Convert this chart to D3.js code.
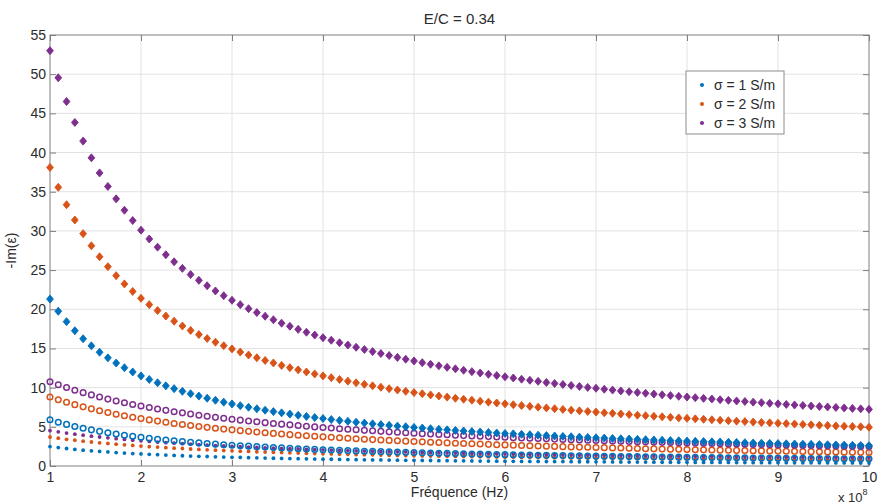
<!DOCTYPE html>
<html>
<head>
<meta charset="utf-8">
<script src="https://cdn.jsdelivr.net/npm/d3@7"></script>
<style>
  html, body { margin: 0; padding: 0; background: #fff; }
  svg { display: block; font-family: "Liberation Sans", Arial, Helvetica, sans-serif; }
</style>
</head>
<body>
<svg id="chart" width="880" height="504"></svg>
<script>
// ---------- data (x in units of 1e8 Hz) ----------
const freq = [
  1, 1.091, 1.182, 1.273, 1.364, 1.455, 1.545, 1.636, 1.727, 1.818, 1.909,
  2, 2.091, 2.182, 2.273, 2.364, 2.455, 2.545, 2.636, 2.727, 2.818, 2.909,
  3, 3.091, 3.182, 3.273, 3.364, 3.455, 3.545, 3.636, 3.727, 3.818, 3.909,
  4, 4.091, 4.182, 4.273, 4.364, 4.455, 4.545, 4.636, 4.727, 4.818, 4.909,
  5, 5.091, 5.182, 5.273, 5.364, 5.455, 5.545, 5.636, 5.727, 5.818, 5.909,
  6, 6.091, 6.182, 6.273, 6.364, 6.455, 6.545, 6.636, 6.727, 6.818, 6.909,
  7, 7.091, 7.182, 7.273, 7.364, 7.455, 7.545, 7.636, 7.727, 7.818, 7.909,
  8, 8.091, 8.182, 8.273, 8.364, 8.455, 8.545, 8.636, 8.727, 8.818, 8.909,
  9, 9.091, 9.182, 9.273, 9.364, 9.455, 9.545, 9.636, 9.727, 9.818, 9.909,
  10
];

// small dots
const sigma1Dots = [
  2.48, 2.35, 2.23, 2.12, 2.02, 1.94, 1.86, 1.79, 1.71, 1.65,
  1.59, 1.54, 1.49, 1.44, 1.39, 1.35, 1.31, 1.27, 1.24, 1.21,
  1.17, 1.14, 1.11, 1.09, 1.06, 1.04, 1.01, 0.99, 0.97, 0.95,
  0.93, 0.91, 0.89, 0.87, 0.86, 0.84, 0.82, 0.81, 0.79, 0.78,
  0.77, 0.76, 0.74, 0.73, 0.72, 0.71, 0.70, 0.68, 0.68, 0.66,
  0.66, 0.65, 0.63, 0.63, 0.62, 0.61, 0.60, 0.59, 0.59, 0.58,
  0.57, 0.56, 0.56, 0.55, 0.54, 0.54, 0.53, 0.53, 0.52, 0.51,
  0.50, 0.50, 0.50, 0.49, 0.48, 0.48, 0.47, 0.47, 0.46, 0.46,
  0.45, 0.45, 0.45, 0.44, 0.44, 0.43, 0.43, 0.42, 0.42, 0.42,
  0.41, 0.41, 0.40, 0.40, 0.40, 0.39, 0.39, 0.39, 0.38, 0.38
];
const sigma2Dots = [
  3.70, 3.55, 3.41, 3.29, 3.17, 3.06, 2.96, 2.87, 2.78, 2.70,
  2.62, 2.54, 2.47, 2.41, 2.34, 2.28, 2.23, 2.17, 2.12, 2.07,
  2.02, 1.98, 1.94, 1.89, 1.86, 1.82, 1.78, 1.75, 1.71, 1.68,
  1.65, 1.62, 1.59, 1.56, 1.54, 1.51, 1.49, 1.46, 1.44, 1.42,
  1.39, 1.37, 1.35, 1.33, 1.31, 1.29, 1.27, 1.26, 1.24, 1.22,
  1.21, 1.19, 1.18, 1.16, 1.14, 1.13, 1.12, 1.10, 1.09, 1.08,
  1.06, 1.05, 1.04, 1.02, 1.01, 1.00, 0.99, 0.98, 0.97, 0.96,
  0.95, 0.94, 0.93, 0.92, 0.91, 0.90, 0.89, 0.88, 0.87, 0.87,
  0.86, 0.85, 0.84, 0.84, 0.83, 0.82, 0.81, 0.81, 0.80, 0.79,
  0.79, 0.78, 0.77, 0.76, 0.76, 0.75, 0.74, 0.74, 0.73, 0.73
];
const sigma3Dots = [
  4.52, 4.36, 4.20, 4.06, 3.93, 3.81, 3.70, 3.59, 3.49, 3.39,
  3.30, 3.21, 3.13, 3.05, 2.98, 2.91, 2.85, 2.78, 2.72, 2.67,
  2.61, 2.56, 2.51, 2.46, 2.41, 2.37, 2.32, 2.28, 2.24, 2.21,
  2.17, 2.13, 2.10, 2.06, 2.03, 2.00, 1.97, 1.94, 1.91, 1.89,
  1.86, 1.83, 1.81, 1.79, 1.76, 1.73, 1.71, 1.69, 1.67, 1.65,
  1.63, 1.61, 1.59, 1.58, 1.55, 1.54, 1.52, 1.50, 1.49, 1.47,
  1.46, 1.44, 1.42, 1.41, 1.40, 1.38, 1.37, 1.36, 1.34, 1.33,
  1.32, 1.31, 1.29, 1.28, 1.27, 1.26, 1.25, 1.23, 1.23, 1.21,
  1.21, 1.20, 1.18, 1.18, 1.17, 1.16, 1.15, 1.14, 1.13, 1.12,
  1.11, 1.10, 1.10, 1.09, 1.08, 1.07, 1.06, 1.05, 1.05, 1.04
];

// open circles
const sigma1Circles = [
  5.90, 5.59, 5.31, 5.05, 4.82, 4.61, 4.42, 4.25, 4.08, 3.93,
  3.79, 3.66, 3.54, 3.42, 3.32, 3.22, 3.12, 3.03, 2.95, 2.87,
  2.79, 2.72, 2.65, 2.59, 2.53, 2.47, 2.41, 2.36, 2.31, 2.26,
  2.21, 2.16, 2.12, 2.08, 2.04, 2.00, 1.96, 1.93, 1.89, 1.86,
  1.83, 1.80, 1.77, 1.74, 1.71, 1.68, 1.66, 1.63, 1.61, 1.58,
  1.56, 1.54, 1.51, 1.49, 1.47, 1.45, 1.43, 1.41, 1.40, 1.38,
  1.36, 1.34, 1.33, 1.31, 1.29, 1.28, 1.26, 1.25, 1.23, 1.22,
  1.20, 1.19, 1.18, 1.17, 1.15, 1.14, 1.13, 1.12, 1.10, 1.09,
  1.08, 1.07, 1.06, 1.05, 1.04, 1.03, 1.02, 1.01, 1.00, 0.99,
  0.98, 0.97, 0.96, 0.96, 0.95, 0.94, 0.93, 0.92, 0.91, 0.91
];
const sigma2Circles = [
  8.80, 8.45, 8.13, 7.83, 7.55, 7.29, 7.05, 6.83, 6.61, 6.42,
  6.23, 6.05, 5.88, 5.73, 5.58, 5.43, 5.30, 5.17, 5.05, 4.93,
  4.82, 4.71, 4.61, 4.51, 4.42, 4.33, 4.24, 4.16, 4.08, 4.00,
  3.93, 3.86, 3.79, 3.72, 3.66, 3.60, 3.54, 3.48, 3.42, 3.37,
  3.32, 3.27, 3.22, 3.17, 3.12, 3.08, 3.03, 2.99, 2.95, 2.91,
  2.87, 2.83, 2.80, 2.76, 2.72, 2.69, 2.66, 2.62, 2.59, 2.56,
  2.53, 2.50, 2.47, 2.44, 2.41, 2.39, 2.36, 2.34, 2.31, 2.29,
  2.26, 2.24, 2.21, 2.19, 2.17, 2.15, 2.13, 2.10, 2.08, 2.06,
  2.04, 2.02, 2.01, 1.99, 1.97, 1.95, 1.93, 1.92, 1.90, 1.88,
  1.87, 1.85, 1.83, 1.82, 1.80, 1.79, 1.77, 1.76, 1.74, 1.73
];
const sigma3Circles = [
  10.75, 10.37, 10.01, 9.67, 9.36, 9.07, 8.80, 8.54, 8.30, 8.07,
  7.85, 7.65, 7.46, 7.27, 7.10, 6.93, 6.78, 6.63, 6.48, 6.35,
  6.21, 6.09, 5.97, 5.85, 5.74, 5.64, 5.53, 5.43, 5.34, 5.25,
  5.16, 5.07, 4.99, 4.91, 4.84, 4.76, 4.69, 4.62, 4.55, 4.49,
  4.42, 4.36, 4.30, 4.25, 4.19, 4.13, 4.08, 4.03, 3.98, 3.93,
  3.88, 3.84, 3.79, 3.75, 3.70, 3.66, 3.62, 3.58, 3.54, 3.50,
  3.47, 3.43, 3.39, 3.36, 3.33, 3.29, 3.26, 3.23, 3.20, 3.17,
  3.14, 3.11, 3.08, 3.05, 3.02, 3.00, 2.97, 2.94, 2.92, 2.89,
  2.87, 2.85, 2.82, 2.80, 2.78, 2.75, 2.73, 2.71, 2.69, 2.67,
  2.65, 2.63, 2.61, 2.59, 2.57, 2.55, 2.53, 2.51, 2.50, 2.48
];

// filled diamonds
const sigma1Diamonds = [
  21.30, 19.75, 18.42, 17.26, 16.24, 15.33, 14.52, 13.80, 13.14, 12.54,
  12.00, 11.50, 11.04, 10.62, 10.23, 9.87, 9.53, 9.22, 8.92, 8.65,
  8.39, 8.15, 7.92, 7.70, 7.50, 7.30, 7.12, 6.94, 6.78, 6.62,
  6.47, 6.33, 6.19, 6.06, 5.93, 5.81, 5.70, 5.59, 5.48, 5.38,
  5.28, 5.19, 5.09, 5.01, 4.92, 4.84, 4.76, 4.68, 4.61, 4.54,
  4.47, 4.40, 4.34, 4.28, 4.21, 4.15, 4.10, 4.04, 3.99, 3.93,
  3.88, 3.83, 3.78, 3.74, 3.69, 3.65, 3.60, 3.56, 3.52, 3.48,
  3.44, 3.40, 3.36, 3.32, 3.29, 3.25, 3.22, 3.18, 3.15, 3.12,
  3.09, 3.06, 3.03, 3.00, 2.97, 2.94, 2.91, 2.89, 2.86, 2.83,
  2.81, 2.78, 2.76, 2.73, 2.71, 2.69, 2.66, 2.64, 2.62, 2.60
];
const sigma2Diamonds = [
  38.10, 35.56, 33.34, 31.39, 29.65, 28.10, 26.70, 25.44, 24.29, 23.24,
  22.28, 21.40, 20.59, 19.83, 19.13, 18.48, 17.87, 17.30, 16.77, 16.27,
  15.80, 15.35, 14.94, 14.54, 14.16, 13.81, 13.47, 13.15, 12.84, 12.55,
  12.27, 12.00, 11.75, 11.50, 11.27, 11.04, 10.83, 10.62, 10.42, 10.23,
  10.05, 9.87, 9.70, 9.53, 9.37, 9.22, 9.07, 8.93, 8.79, 8.65,
  8.52, 8.40, 8.27, 8.15, 8.04, 7.93, 7.82, 7.71, 7.61, 7.51,
  7.41, 7.31, 7.22, 7.13, 7.04, 6.96, 6.88, 6.79, 6.72, 6.64,
  6.56, 6.49, 6.42, 6.35, 6.28, 6.21, 6.14, 6.08, 6.02, 5.96,
  5.90, 5.84, 5.78, 5.72, 5.67, 5.61, 5.56, 5.51, 5.46, 5.41,
  5.36, 5.31, 5.26, 5.21, 5.17, 5.12, 5.08, 5.04, 5.00, 4.95
];
const sigma3Diamonds = [
  53.0, 49.54, 46.51, 43.84, 41.46, 39.32, 37.40, 35.67, 34.09, 32.64,
  31.32, 30.10, 28.97, 27.93, 26.96, 26.06, 25.22, 24.43, 23.69, 23.0,
  22.34, 21.73, 21.15, 20.59, 20.07, 19.58, 19.11, 18.66, 18.23, 17.83,
  17.44, 17.07, 16.71, 16.37, 16.05, 15.73, 15.43, 15.15, 14.87, 14.60,
  14.35, 14.10, 13.86, 13.63, 13.41, 13.19, 12.98, 12.78, 12.59, 12.40,
  12.22, 12.04, 11.87, 11.70, 11.54, 11.38, 11.23, 11.08, 10.94, 10.80,
  10.66, 10.53, 10.40, 10.28, 10.15, 10.03, 9.92, 9.80, 9.69, 9.58,
  9.48, 9.38, 9.28, 9.18, 9.08, 8.99, 8.89, 8.80, 8.72, 8.63,
  8.55, 8.46, 8.38, 8.30, 8.23, 8.15, 8.08, 8.00, 7.93, 7.86,
  7.79, 7.73, 7.66, 7.59, 7.53, 7.47, 7.41, 7.35, 7.29, 7.23
];

const legendLabels = ["σ = 1 S/m", "σ = 2 S/m", "σ = 3 S/m"];
const xTickValues = [1, 2, 3, 4, 5, 6, 7, 8, 9, 10];
const yTickValues = [0, 5, 10, 15, 20, 25, 30, 35, 40, 45, 50, 55];
const titleText = "E/C = 0.34";
const xLabelText = "Fréquence (Hz)";
const yLabelText = "-Im(ε)";

// ---------- drawing ----------
(function draw() {
  const colors = ["#0072BD", "#D95319", "#7E2F8E"];
  const series = [
    { values: sigma1Dots, color: colors[0], marker: "dot" },
    { values: sigma2Dots, color: colors[1], marker: "dot" },
    { values: sigma3Dots, color: colors[2], marker: "dot" },
    { values: sigma1Circles, color: colors[0], marker: "circle" },
    { values: sigma2Circles, color: colors[1], marker: "circle" },
    { values: sigma3Circles, color: colors[2], marker: "circle" },
    { values: sigma1Diamonds, color: colors[0], marker: "diamond" },
    { values: sigma2Diamonds, color: colors[1], marker: "diamond" },
    { values: sigma3Diamonds, color: colors[2], marker: "diamond" }
  ];

  const svg = d3.select("#chart");
  const pL = 50, pR = 869, pT = 35, pB = 466;
  const x = d3.scaleLinear().domain([1, 10]).range([pL, pR]);
  const y = d3.scaleLinear().domain([0, 55]).range([pB, pT]);
  const axisColor = "#7f7f7f", textColor = "#2b2b2b", gridColor = "#e2e2e2";
  const fontSize = 14;

  // grid
  const grid = svg.append("g");
  grid.selectAll("line.gx").data(xTickValues.slice(1, -1)).join("line")
    .attr("x1", d => x(d)).attr("x2", d => x(d)).attr("y1", pT).attr("y2", pB)
    .attr("stroke", gridColor).attr("stroke-width", 1);
  grid.selectAll("line.gy").data(yTickValues.slice(1, -1)).join("line")
    .attr("y1", d => y(d)).attr("y2", d => y(d)).attr("x1", pL).attr("x2", pR)
    .attr("stroke", gridColor).attr("stroke-width", 1);

  // axes
  const xAxis = svg.append("g").attr("transform", `translate(0,${pB})`)
    .call(d3.axisBottom(x).tickValues(xTickValues).tickFormat(d3.format("d")).tickSizeInner(-6).tickSizeOuter(0).tickPadding(6));
  const xAxisTop = svg.append("g").attr("transform", `translate(0,${pT})`)
    .call(d3.axisTop(x).tickValues(xTickValues).tickFormat("").tickSizeInner(-6).tickSizeOuter(0));
  const yAxis = svg.append("g").attr("transform", `translate(${pL},0)`)
    .call(d3.axisLeft(y).tickValues(yTickValues).tickFormat(d3.format("d")).tickSizeInner(-6).tickSizeOuter(0).tickPadding(4));
  const yAxisRight = svg.append("g").attr("transform", `translate(${pR},0)`)
    .call(d3.axisRight(y).tickValues(yTickValues).tickFormat("").tickSizeInner(-6).tickSizeOuter(0));
  [xAxis, xAxisTop, yAxis, yAxisRight].forEach(g => {
    g.select(".domain").remove();
    g.selectAll(".tick line").attr("stroke", axisColor);
    g.selectAll(".tick text").attr("fill", textColor).attr("font-size", fontSize)
      .attr("font-family", '"Liberation Sans", Arial, sans-serif');
  });

  // box
  svg.append("rect").attr("x", pL).attr("y", pT).attr("width", pR - pL).attr("height", pB - pT)
    .attr("fill", "none").attr("stroke", axisColor).attr("stroke-width", 1);

  // markers
  const plot = svg.append("g");
  const diamondPath = "M0,-4L3.4,0L0,4L-3.4,0Z";
  series.forEach(s => {
    const pts = s.values.map((v, i) => ({ fx: freq[i], v }));
    const g = plot.append("g");
    if (s.marker === "dot") {
      g.selectAll("circle").data(pts).join("circle")
        .attr("cx", d => x(d.fx)).attr("cy", d => y(d.v)).attr("r", 1.9)
        .attr("fill", s.color);
    } else if (s.marker === "circle") {
      g.selectAll("circle").data(pts).join("circle")
        .attr("cx", d => x(d.fx)).attr("cy", d => y(d.v)).attr("r", 2.8)
        .attr("fill", "none").attr("stroke", s.color).attr("stroke-width", 1.5);
    } else {
      g.selectAll("path").data(pts).join("path")
        .attr("transform", d => `translate(${x(d.fx)},${y(d.v)})`)
        .attr("d", diamondPath).attr("fill", s.color).attr("stroke", s.color).attr("stroke-width", 0.9);
    }
  });

  // title and labels
  svg.append("text").attr("x", (pL + pR) / 2).attr("y", 24).attr("text-anchor", "middle")
    .attr("font-size", 15).attr("fill", textColor).text(titleText);
  svg.append("text").attr("x", (pL + pR) / 2).attr("y", 497).attr("text-anchor", "middle")
    .attr("font-size", fontSize).attr("fill", textColor).text(xLabelText);
  svg.append("text").attr("transform", `translate(16,${(pT + pB) / 2}) rotate(-90)`)
    .attr("text-anchor", "middle").attr("font-size", fontSize).attr("fill", textColor).text(yLabelText);
  const mult = svg.append("text").attr("x", 838).attr("y", 502).attr("font-size", 13).attr("fill", textColor);
  mult.append("tspan").text("x 10");
  mult.append("tspan").attr("dy", -7).attr("font-size", 9).text("8");

  // legend
  const lg = svg.append("g");
  lg.append("rect").attr("x", 686).attr("y", 71).attr("width", 98).attr("height", 63)
    .attr("fill", "#fff").attr("stroke", "#8c8c8c").attr("stroke-width", 1);
  legendLabels.forEach((lab, i) => {
    const cy = 85 + i * 19;
    lg.append("circle").attr("cx", 702).attr("cy", cy).attr("r", 2).attr("fill", colors[i]);
    lg.append("text").attr("x", 714).attr("y", cy).attr("dy", "0.35em")
      .attr("font-size", fontSize).attr("fill", textColor).text(lab);
  });
})();
</script>
</body>
</html>
